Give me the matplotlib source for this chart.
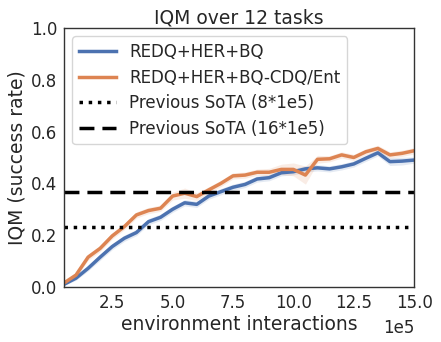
import matplotlib
matplotlib.use("Agg")
import matplotlib.pyplot as plt
import numpy as np

steps = [0.5, 1.0, 1.5, 2.0, 2.5, 3.0, 3.5, 4.0, 4.5, 5.0, 5.5, 6.0, 6.5, 7.0, 7.5,
         8.0, 8.5, 9.0, 9.5, 10.0, 10.5, 11.0, 11.5, 12.0, 12.5, 13.0, 13.5, 14.0, 14.5, 15.0]
bq = [0.01, 0.034, 0.072, 0.115, 0.156, 0.188, 0.21, 0.252, 0.269, 0.30, 0.325, 0.319,
      0.351, 0.368, 0.385, 0.396, 0.417, 0.422, 0.441, 0.445, 0.456, 0.46, 0.456, 0.464,
      0.475, 0.497, 0.518, 0.484, 0.486, 0.49]
bq_err = [0.005, 0.008, 0.01, 0.012, 0.012, 0.012, 0.012, 0.012, 0.012, 0.012, 0.012, 0.012,
          0.012, 0.012, 0.012, 0.012, 0.012, 0.012, 0.012, 0.012, 0.012, 0.012, 0.012, 0.012,
          0.012, 0.012, 0.012, 0.015, 0.015, 0.012]
cdq = [0.015, 0.046, 0.115, 0.149, 0.197, 0.233, 0.278, 0.295, 0.304, 0.351, 0.362, 0.349,
       0.375, 0.40, 0.429, 0.432, 0.443, 0.443, 0.454, 0.454, 0.432, 0.493, 0.495, 0.51,
       0.50, 0.522, 0.535, 0.51, 0.516, 0.526]
cdq_err = [0.005, 0.008, 0.012, 0.012, 0.012, 0.012, 0.012, 0.012, 0.012, 0.015, 0.02, 0.015,
           0.012, 0.012, 0.012, 0.012, 0.012, 0.015, 0.02, 0.025, 0.035, 0.015, 0.012, 0.012,
           0.012, 0.012, 0.012, 0.012, 0.012, 0.012]
sota_8 = 0.23
sota_16 = 0.366

blue = "#4C72B0"
orange = "#DD8452"

plt.rcParams['font.family'] = ['DejaVu Sans']
plt.rcParams['text.color'] = '#262626'
plt.rcParams['axes.labelcolor'] = '#262626'
plt.rcParams['xtick.color'] = '#262626'
plt.rcParams['ytick.color'] = '#262626'
fig, ax = plt.subplots(figsize=(4.41, 3.42), dpi=100)
x = np.array(steps)
for y, e, c, lab in [(bq, bq_err, blue, "REDQ+HER+BQ"), (cdq, cdq_err, orange, "REDQ+HER+BQ-CDQ/Ent")]:
    y = np.array(y); e = np.array(e)
    ax.fill_between(x, y - e, y + e, color=c, alpha=0.15, linewidth=0)
    ax.plot(x, y, color=c, lw=2.5, label=lab)
ax.axhline(sota_8, color="black", ls=":", lw=2.5, label="Previous SoTA (8*1e5)")
ax.axhline(sota_16, color="black", ls="--", lw=2.5, dashes=(4.3, 2.3), label="Previous SoTA (16*1e5)")

ax.set_xlim(0.5, 15.0)
ax.set_ylim(0.0, 1.0)
ax.set_xticks([2.5, 5.0, 7.5, 10.0, 12.5, 15.0])
ax.set_xticklabels(["2.5", "5.0", "7.5", "10.0", "12.5", "15.0"])
ax.set_yticks([0.0, 0.2, 0.4, 0.6, 0.8, 1.0])
ax.set_yticklabels(["0.0", "0.2", "0.4", "0.6", "0.8", "1.0"])
ax.tick_params(labelsize=12, length=0, pad=5)
for s in ax.spines.values():
    s.set_color("#333333")
    s.set_linewidth(1.0)
ax.set_title("IQM over 12 tasks", fontsize=13.5, pad=3)
ax.set_xlabel("environment interactions", fontsize=13.5, labelpad=2)
ax.set_ylabel("IQM (success rate)", fontsize=13.5, labelpad=3)
ax.text(1.0, -0.125, "1e5", transform=ax.transAxes, ha="right", va="top", fontsize=12)
ax.legend(loc="upper left", fontsize=12, frameon=True, handlelength=2.2, handletextpad=0.8,
          borderaxespad=0.5, labelspacing=0.45)
fig.subplots_adjust(left=0.145, right=0.939, top=0.918, bottom=0.161)
fig.savefig("out.png", dpi=100)
